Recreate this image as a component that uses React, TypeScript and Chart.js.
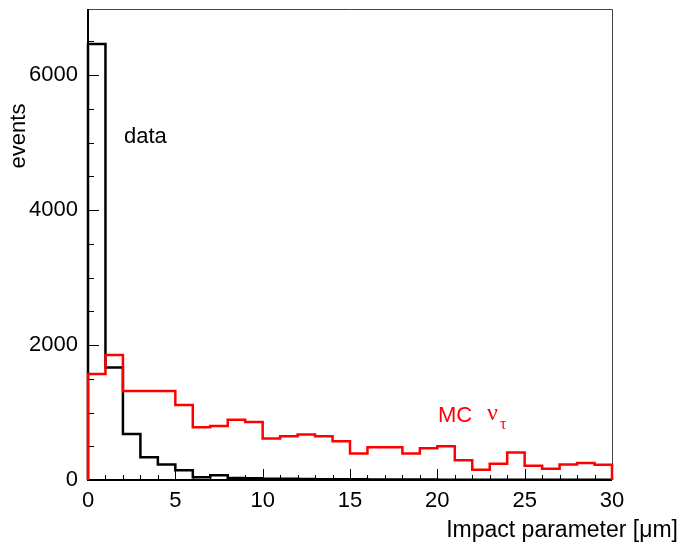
import React, { useEffect, useRef } from "react";
import { Chart, registerables } from "chart.js";

Chart.register(...registerables);

// Bin edges: 30 bins of 1 µm from 0 to 30
const binLow = 0;
const binWidth = 1;
const dataCounts = [6460, 1669, 680, 338, 230, 145, 42, 71, 30, 25, 20, 18, 15, 12, 10, 10, 8, 8, 6, 6, 5, 5, 4, 4, 3, 3, 3, 2, 2, 2];
const mcCounts = [1570, 1852, 1318, 1318, 1318, 1110, 783, 800, 892, 858, 616, 650, 675, 650, 576, 393, 487, 487, 393, 472, 502, 294, 153, 240, 408, 212, 168, 230, 252, 227];
const xTickValues = [0, 5, 10, 15, 20, 25, 30];
const yTickValues = [0, 2000, 4000, 6000];
const xMin = 0;
const xMax = 30;
const yMin = 0;
const yMax = 6980;
const xMinorStep = 1;
const yMinorStep = 500;
const xTitle = "Impact parameter [\u03BCm]";
const yTitle = "events";
const dataLabel = "data";
const mcLabel = "MC";
const mcNu = "\u03BD";
const mcTau = "\u03C4";

const FONT = "'Liberation Sans', Arial, Helvetica, sans-serif";

function histPoints(counts: number[]) {
  const pts: { x: number; y: number }[] = [{ x: binLow, y: 0 }];
  counts.forEach((v, i) => {
    pts.push({ x: binLow + i * binWidth, y: v });
    pts.push({ x: binLow + (i + 1) * binWidth, y: v });
  });
  pts.push({ x: binLow + counts.length * binWidth, y: 0 });
  return pts;
}

const rootPlugin = {
  id: "rootStyle",
  beforeDatasetsDraw(chart: any) {
    const { ctx, chartArea, scales } = chart;
    const { left, right, top, bottom } = chartArea;
    const xs = scales.x;
    const ys = scales.y;
    ctx.save();
    // frame (top/right)
    ctx.strokeStyle = "#444";
    ctx.lineWidth = 1;
    ctx.beginPath();
    ctx.moveTo(left, top + 0.5);
    ctx.lineTo(right + 0.5, top + 0.5);
    ctx.lineTo(right + 0.5, bottom);
    ctx.stroke();
    // axes
    ctx.strokeStyle = "#000";
    ctx.lineWidth = 2;
    ctx.beginPath();
    ctx.moveTo(left, top);
    ctx.lineTo(left, bottom);
    ctx.lineTo(right, bottom);
    ctx.stroke();
    // y ticks inside
    for (let v = yMin; v <= yMax; v += yMinorStep) {
      const py = Math.round(ys.getPixelForValue(v)) + 0.5;
      const major = yTickValues.includes(v);
      ctx.lineWidth = 1;
      ctx.beginPath();
      ctx.moveTo(left, py);
      ctx.lineTo(left + (major ? 11 : 6), py);
      ctx.stroke();
    }
    // x ticks inside
    for (let v = xMin; v <= xMax; v += xMinorStep) {
      const px = Math.round(xs.getPixelForValue(v)) + 0.5;
      const major = xTickValues.includes(v);
      ctx.lineWidth = 1;
      ctx.beginPath();
      ctx.moveTo(px, bottom);
      ctx.lineTo(px, bottom - (major ? 11 : 5));
      ctx.stroke();
    }
    ctx.restore();
  },
  afterDraw(chart: any) {
    const { ctx } = chart;
    ctx.save();
    ctx.fillStyle = "#000";
    ctx.textBaseline = "middle";
    // x title
    ctx.font = `23px ${FONT}`;
    ctx.textAlign = "right";
    ctx.fillText(xTitle, 678, 531);
    // y title
    ctx.font = `22px ${FONT}`;
    ctx.save();
    ctx.translate(19, 136);
    ctx.rotate(-Math.PI / 2);
    ctx.textAlign = "center";
    ctx.fillText(yTitle, 0, 0);
    ctx.restore();
    // data label
    ctx.textAlign = "left";
    ctx.fillText(dataLabel, 124, 137);
    // MC label
    ctx.fillStyle = "#ff0000";
    ctx.fillText(mcLabel, 438, 416);
    ctx.font = `24px 'Liberation Serif', 'DejaVu Serif', serif`;
    ctx.fillText(mcNu, 487, 414);
    ctx.font = `16px 'Liberation Serif', 'DejaVu Serif', serif`;
    ctx.fillText(mcTau, 500, 425);
    ctx.restore();
  },
};

export default function App() {
  const canvasRef = useRef<HTMLCanvasElement | null>(null);

  useEffect(() => {
    if (!canvasRef.current) return;
    const chart = new Chart(canvasRef.current, {
      type: "line",
      data: {
        datasets: [
          {
            label: "MC",
            data: histPoints(mcCounts),
            borderColor: "#ff0000",
            borderWidth: 2.5,
            pointRadius: 0,
            fill: false,
            tension: 0,
            clip: false,
            order: 0,
          } as any,
          {
            label: "data",
            data: histPoints(dataCounts),
            borderColor: "#000000",
            borderWidth: 2.5,
            pointRadius: 0,
            fill: false,
            tension: 0,
            clip: false,
            order: 1,
          } as any,
        ],
      },
      options: {
        animation: false,
        responsive: false,
        layout: { padding: { top: 9, right: 70, left: 0, bottom: 0 } },
        plugins: { legend: { display: false }, tooltip: { enabled: false } },
        scales: {
          x: {
            type: "linear",
            min: xMin,
            max: xMax,
            grid: { display: false },
            border: { display: false },
            afterBuildTicks: (s: any) => {
              s.ticks = xTickValues.map((v) => ({ value: v }));
            },
            afterFit: (s: any) => {
              s.height = 65;
              s.paddingLeft = 0;
              s.paddingRight = 0;
            },
            ticks: {
              color: "#000",
              font: { family: FONT, size: 22 },
              padding: 0,
              maxRotation: 0,
              autoSkip: false,
              callback: (v: any) => String(v),
            },
          },
          y: {
            type: "linear",
            min: yMin,
            max: yMax,
            grid: { display: false },
            border: { display: false },
            afterBuildTicks: (s: any) => {
              s.ticks = yTickValues.map((v) => ({ value: v }));
            },
            afterFit: (s: any) => {
              s.width = 88;
              s.paddingTop = 0;
              s.paddingBottom = 0;
            },
            ticks: {
              color: "#000",
              font: { family: FONT, size: 22 },
              padding: 2,
              autoSkip: false,
              callback: (v: any) => String(v),
            },
          },
        },
      },
      plugins: [rootPlugin],
    });
    return () => chart.destroy();
  }, []);

  return (
    <div style={{ position: "fixed", left: 0, top: 0, width: 682, height: 545, background: "#fff" }}>
      <canvas ref={canvasRef} width={682} height={545} style={{ width: 682, height: 545 }} />
    </div>
  );
}
